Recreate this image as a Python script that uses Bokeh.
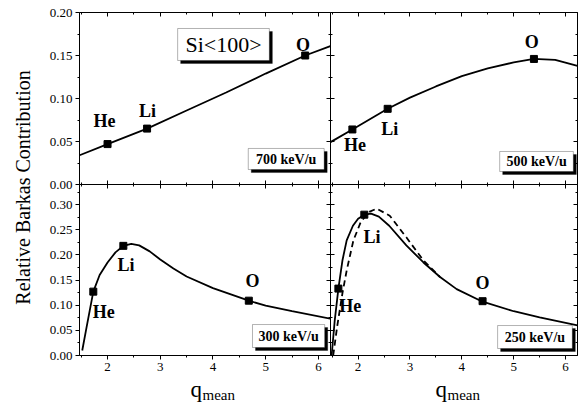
from math import pi
from bokeh.plotting import figure
from bokeh.models import (Range1d, LinearAxis, SingleIntervalTicker, PrintfTickFormatter,
                          Label, CustomLabelingPolicy, BoxAnnotation)
from bokeh.layouts import row, column
from bokeh.embed import file_html
from bokeh.resources import INLINE

# ---------------- data ----------------
ions = ["He", "Li", "O"]

# 700 keV/u (top-left)
q700_curve = [1.47, 2.0, 2.75, 3.5, 4.25, 5.0, 5.75, 6.23]
b700_curve = [0.034, 0.047, 0.065, 0.086, 0.107, 0.129, 0.150, 0.161]
q700_pts = [2.0, 2.75, 5.75]
b700_pts = [0.047, 0.065, 0.150]

# 500 keV/u (top-right)
q500_curve = [1.46, 1.89, 2.57, 3.0, 3.5, 4.0, 4.5, 5.0, 5.39, 5.8, 6.23]
b500_curve = [0.049, 0.064, 0.088, 0.101, 0.114, 0.126, 0.135, 0.142, 0.146, 0.145, 0.138]
q500_pts = [1.89, 2.57, 5.39]
b500_pts = [0.064, 0.088, 0.146]

# 300 keV/u (bottom-left)
q300_curve = [1.52, 1.6, 1.73, 1.85, 2.0, 2.15, 2.3, 2.45, 2.6, 2.8, 3.0, 3.25, 3.5, 4.0, 4.68, 5.0, 5.5, 6.23]
b300_curve = [0.010, 0.055, 0.127, 0.160, 0.185, 0.205, 0.218, 0.222, 0.219, 0.207, 0.191, 0.173, 0.157, 0.134, 0.109, 0.099, 0.088, 0.073]
q300_pts = [1.73, 2.30, 4.68]
b300_pts = [0.127, 0.218, 0.109]

# 250 keV/u (bottom-right): solid and dashed curves
q250_curve = [1.49, 1.55, 1.62, 1.7, 1.78, 1.9, 2.0, 2.12, 2.25, 2.4, 2.6, 2.93, 3.26, 3.58, 3.9, 4.4, 5.0, 5.5, 6.23]
b250_curve = [0.0, 0.07, 0.133, 0.19, 0.229, 0.258, 0.272, 0.280, 0.282, 0.276, 0.258, 0.219, 0.185, 0.156, 0.132, 0.107, 0.088, 0.076, 0.060]
q250_dash = [1.52, 1.6, 1.7, 1.78, 1.91, 2.05, 2.2, 2.36, 2.61, 2.93, 3.26, 3.58]
b250_dash = [0.0, 0.06, 0.125, 0.169, 0.229, 0.265, 0.285, 0.292, 0.278, 0.235, 0.189, 0.156]
q250_pts = [1.62, 2.12, 4.40]
b250_pts = [0.133, 0.280, 0.108]

x_range_vals = (1.468, 6.23)
y_top = (0.0, 0.20)
y_bot = (0.0, 0.34)

SERIF = "Liberation Serif"
OVERLAP = 10  # px of the top row's canvas that the bottom row covers (transparent)
SHADOW = 3    # px offset of the box shadows


def no_labels():
    return CustomLabelingPolicy(code="for (const i of indices) indices.unset(i)")


def style_axis(ax, ticker, labels, direction, line=True, fmt=None):
    ax.ticker = ticker
    ax.axis_line_color = "black" if line else None
    ax.axis_line_width = 1
    ax.major_tick_line_color = "black"
    ax.minor_tick_line_color = "black"
    if direction == "out":
        ax.major_tick_out, ax.major_tick_in = 4, 0
        ax.minor_tick_out, ax.minor_tick_in = 2, 0
    else:
        ax.major_tick_out, ax.major_tick_in = 0, 4
        ax.minor_tick_out, ax.minor_tick_in = 0, 2
    if labels:
        ax.major_label_text_font = SERIF
        ax.major_label_text_font_size = "13px"
        ax.major_label_text_color = "black"
        ax.major_label_standoff = 3
        if fmt is not None:
            ax.formatter = fmt
    else:
        ax.major_label_text_font_size = "0px"
        ax.major_label_standoff = 0
        ax.major_label_policy = no_labels()
    ax.axis_label_standoff = 0


def panel(yr, fw, fh, left, right, top, bottom, is_left, is_bottom):
    p = figure(frame_width=fw, frame_height=fh,
               x_range=Range1d(*x_range_vals), y_range=Range1d(*yr),
               output_backend="svg", toolbar_location=None,
               min_border_left=left, min_border_right=right,
               min_border_top=top, min_border_bottom=bottom)
    p.outline_line_color = None
    p.grid.visible = False
    if is_bottom:
        p.background_fill_color = None
        p.border_fill_color = None
    else:
        p.background_fill_color = "white"
        p.border_fill_color = "white"
    xt = SingleIntervalTicker(interval=1, num_minor_ticks=2)
    yt = SingleIntervalTicker(interval=0.05, num_minor_ticks=2)
    fmt = PrintfTickFormatter(format="%.2f")
    style_axis(p.xaxis[0], xt, is_bottom, "out" if is_bottom else "in")
    style_axis(p.yaxis[0], yt, is_left, "out" if is_left else "in", fmt=fmt)
    ab = LinearAxis()
    style_axis(ab, SingleIntervalTicker(interval=1, num_minor_ticks=2), False, "in",
               line=not is_bottom)
    p.add_layout(ab, "above")
    rt = LinearAxis()
    style_axis(rt, SingleIntervalTicker(interval=0.05, num_minor_ticks=2), False, "in")
    p.add_layout(rt, "right")
    return p


def ion_labels(p, pos):
    for name, (x, y) in zip(ions, pos):
        p.add_layout(Label(x=x, y=y, text=name, text_font=SERIF, text_font_size="18px",
                           text_font_style="bold", text_align="center", text_baseline="middle",
                           text_color="black"))


def boxed(p, fw, fh, yr, l, r, b, t, text, size, style):
    dx = SHADOW * (x_range_vals[1] - x_range_vals[0]) / fw
    dy = SHADOW * (yr[1] - yr[0]) / fh
    p.add_layout(BoxAnnotation(left=l + dx, right=r + dx, bottom=b - dy, top=t - dy,
                               fill_color="black", fill_alpha=1, line_color="black"))
    p.add_layout(BoxAnnotation(left=l, right=r, bottom=b, top=t,
                               fill_color="white", fill_alpha=1, line_color="black",
                               line_width=1))
    p.add_layout(Label(x=(l + r) / 2, y=(b + t) / 2, text=text, text_font=SERIF,
                       text_font_size=size, text_font_style=style, text_align="center",
                       text_baseline="middle", text_color="black"))


def curve(p, q, b, qp, bp):
    p.line(q, b, line_color="black", line_width=1.8)
    p.scatter(qp, bp, marker="square", size=7, color="black")


# top-left: 700 keV/u
p1 = panel(y_top, 251, 172, 47, 0, 12, OVERLAP, True, False)
curve(p1, q700_curve, b700_curve, q700_pts, b700_pts)
ion_labels(p1, [(1.94, 0.074), (2.76, 0.085), (5.71, 0.162)])
boxed(p1, 251, 172, y_top, 3.33, 5.07, 0.1442, 0.1814, "Si<100>", "22px", "normal")
boxed(p1, 251, 172, y_top, 4.67, 6.11, 0.0174, 0.0419, "700 keV/u", "14px", "bold")

# top-right: 500 keV/u
p2 = panel(y_top, 247, 172, 0, 1, 12, OVERLAP, False, False)
curve(p2, q500_curve, b500_curve, q500_pts, b500_pts)
ion_labels(p2, [(1.94, 0.0465), (2.61, 0.065), (5.35, 0.166)])
boxed(p2, 247, 172, y_top, 4.73, 6.15, 0.0151, 0.0384, "500 keV/u", "14px", "bold")

# bottom-left: 300 keV/u
p3 = panel(y_bot, 251, 171, 47, 0, 0, 22, True, True)
curve(p3, q300_curve, b300_curve, q300_pts, b300_pts)
ion_labels(p3, [(1.93, 0.086), (2.35, 0.179), (4.75, 0.149)])
boxed(p3, 251, 171, y_bot, 4.75, 6.12, 0.0159, 0.0616, "300 keV/u", "14px", "bold")

# bottom-right: 250 keV/u
p4 = panel(y_bot, 247, 171, 0, 1, 0, 22, False, True)
p4.line(q250_dash, b250_dash, line_color="black", line_width=1.8, line_dash="6 4")
curve(p4, q250_curve, b250_curve, q250_pts, b250_pts)
ion_labels(p4, [(1.85, 0.099), (2.27, 0.235), (4.40, 0.144)])
boxed(p4, 247, 171, y_bot, 4.69, 6.13, 0.0139, 0.0596, "250 keV/u", "14px", "bold")

# x-axis titles (q with subscript "mean"), in a strip below the bottom panels
QW, QH = 546, 26
qf = figure(width=QW, height=QH, x_range=Range1d(0, QW), y_range=Range1d(0, QH),
            x_axis_type=None, y_axis_type=None, toolbar_location=None,
            output_backend="svg", min_border=0)
qf.outline_line_color = None
qf.grid.visible = False
for xq in (158, 403):
    qf.add_layout(Label(x=xq, y=14, text="q", text_font=SERIF, text_font_size="23px",
                        text_align="left", text_baseline="alphabetic", text_color="black"))
    qf.add_layout(Label(x=xq + 12, y=9, text="mean", text_font=SERIF, text_font_size="15px",
                        text_align="left", text_baseline="alphabetic", text_color="black"))

# y-axis title
TOTAL_H = 12 + 172 + 171 + 22 + QH
yl = figure(width=32, height=TOTAL_H, x_range=Range1d(0, 1), y_range=Range1d(0, 1),
            x_axis_type=None, y_axis_type=None, toolbar_location=None,
            output_backend="svg", min_border=0)
yl.outline_line_color = None
yl.grid.visible = False
yl.add_layout(Label(x=22 / 32, y=1 - 187 / TOTAL_H, text="Relative Barkas Contribution",
                    angle=pi / 2, text_align="center", text_baseline="middle",
                    text_font=SERIF, text_font_size="20px", text_color="black"))

top_row = row(p1, p2)
bottom_row = row(p3, p4, styles={"margin-top": f"-{OVERLAP}px"})
layout = row(yl, column(top_row, bottom_row, qf))

open("out.html", "w").write(file_html(layout, INLINE))
